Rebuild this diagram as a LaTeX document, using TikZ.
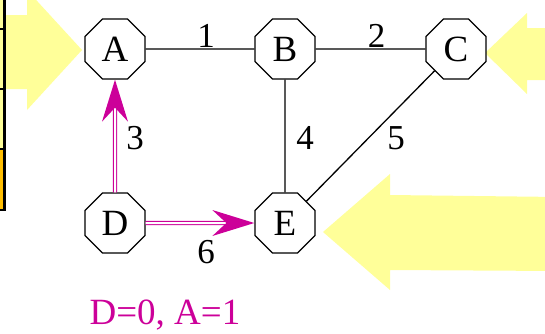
\documentclass[tikz,border=0pt]{standalone}
\usepackage{fontspec}
\setmainfont{Liberation Serif}
\usetikzlibrary{shapes.geometric,arrows.meta}
\definecolor{hiyellow}{RGB}{255,255,153}
\definecolor{cellorange}{RGB}{255,190,0}
\definecolor{pathmag}{RGB}{204,0,153}
\tikzset{
  vert/.style={draw=black, fill=white, line width=1.3pt, regular polygon, regular polygon sides=8,
    minimum size=65pt, inner sep=0pt, font=\fontsize{37}{40}\selectfont},
  edge/.style={draw=black, line width=1.3pt},
  lbl/.style={inner sep=0pt, font=\fontsize{35}{38}\selectfont},
  tree/.style={draw=pathmag, double=white, line width=1.1pt, double distance=2pt,
    -{Stealth[length=42pt, width=26pt, inset=14pt, fill=pathmag, line width=0pt]}},
  pointer/.style={fill=hiyellow}
}
\begin{document}
\begin{tikzpicture}[x=1pt, y=-1pt]
\useasboundingbox (0,0) rectangle (545,333);
% yellow pointer arrows
\fill[pointer] (-10,15) -- (27,15) -- (27,-10) -- (82,50) -- (27,110) -- (27,89) -- (-10,89) -- cycle;
\fill[pointer] (560,28) -- (527,28) -- (527,13) -- (485,53) -- (527,94) -- (527,80) -- (560,80) -- cycle;
\fill[pointer] (560,197) -- (390,195) -- (390,174) -- (323,232) -- (390,290) -- (390,270) -- (560,271) -- cycle;
% partial table at left edge
\fill[hiyellow] (-5,-5) rectangle (4,150);
\fill[cellorange] (-5,150) rectangle (4,209);
\draw[line width=2pt] (-5,29) -- (4.7,29) (-5,89) -- (4.7,89) (-5,149) -- (4.7,149) (-5,210) -- (4.7,210);
\draw[line width=2.6pt] (4.7,-5) -- (4.7,211);
% vertices
\node[vert] (A) at (115,49) {A};
\node[vert] (B) at (285,49) {B};
\node[vert] (C) at (456,49) {C};
\node[vert] (D) at (115,223) {D};
\node[vert] (E) at (285,223) {E};
% edges
\draw[edge] (A) -- (B);
\draw[edge] (B) -- (C);
\draw[edge] (B) -- (E);
\draw[edge] (C) -- (E);
\draw[tree] (D) -- (A);
\draw[tree] (D) -- (E);
% weights
\node[lbl] (w1) at (206,35.5) {1};
\node[lbl] (w2) at (376.5,35.5) {2};
\node[lbl] (w3) at (135,138) {3};
\node[lbl] (w4) at (305,138) {4};
\node[lbl] (w5) at (396,138) {5};
\node[lbl] (w6) at (206,252) {6};
% distances
\node[inner sep=0pt, anchor=base, text=pathmag, font=\fontsize{37}{40}\selectfont] (dist) at (165,324) {D=0, A=1};
\end{tikzpicture}
\end{document}
